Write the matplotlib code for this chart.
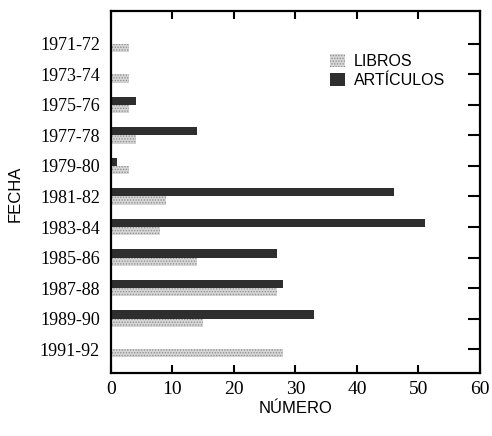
import matplotlib
matplotlib.use("Agg")
import matplotlib.pyplot as plt
import numpy as np

# Publications per academic year
fechas = ["1971-72", "1973-74", "1975-76", "1977-78", "1979-80", "1981-82",
          "1983-84", "1985-86", "1987-88", "1989-90", "1991-92"]
libros = [3, 3, 3, 4, 3, 9, 8, 14, 27, 15, 28]
articulos = [0, 0, 4, 14, 1, 46, 51, 27, 28, 33, 0]

SERIF = ["Liberation Serif", "DejaVu Serif"]
SANS = ["Liberation Sans", "DejaVu Sans"]

plt.rcParams["hatch.linewidth"] = 0.6

fig = plt.figure(figsize=(4.92, 4.36), dpi=100)
ax = fig.add_axes([0.2256, 0.1445, 0.75, 0.830])

y = np.arange(len(fechas))
h = 0.27
# articulos sit just above the category line, libros just below it
ax.barh(y - h / 2, articulos, height=h, color="#2e2e2e", linewidth=0,
        label="ARTÍCULOS")
ax.barh(y + h / 2, libros, height=h, color="#d6d6d6", edgecolor="#8c8c8c",
        hatch="......", linewidth=0, label="LIBROS")

ax.set_xlim(0, 60)
ax.set_ylim(10.78, -1.07)
ax.set_xticks(range(0, 61, 10))
ax.set_yticks(y)
ax.set_yticklabels(fechas, fontfamily=SERIF, fontsize=13)
for lab in ax.get_xticklabels():
    lab.set_fontfamily(SERIF)
    lab.set_fontsize(14)

for s in ax.spines.values():
    s.set_linewidth(1.6)

ax.tick_params(axis="x", direction="in", length=6, width=1.5, top=True,
               pad=6)
# y ticks only on the right spine, labels stay on the left
ax.tick_params(axis="y", direction="in", length=9, width=1.5, left=False,
               right=True, labelleft=True, pad=8)

ax.set_xlabel("NÚMERO", fontfamily=SANS, fontsize=12, labelpad=2)
fig.text(0.03, 0.555, "FECHA", rotation=90, ha="center", va="center",
         fontfamily=SANS, fontsize=12)

handles, labels = ax.get_legend_handles_labels()
ax.legend(handles[::-1], labels[::-1], loc="upper left",
          bbox_to_anchor=(0.655, 0.895), bbox_transform=fig.transFigure,
          frameon=False, handlelength=0.9, handleheight=0.9,
          handletextpad=0.6, labelspacing=0.25, borderpad=0,
          prop={"family": SANS, "size": 11.5})

fig.savefig("out.png", dpi=100)
